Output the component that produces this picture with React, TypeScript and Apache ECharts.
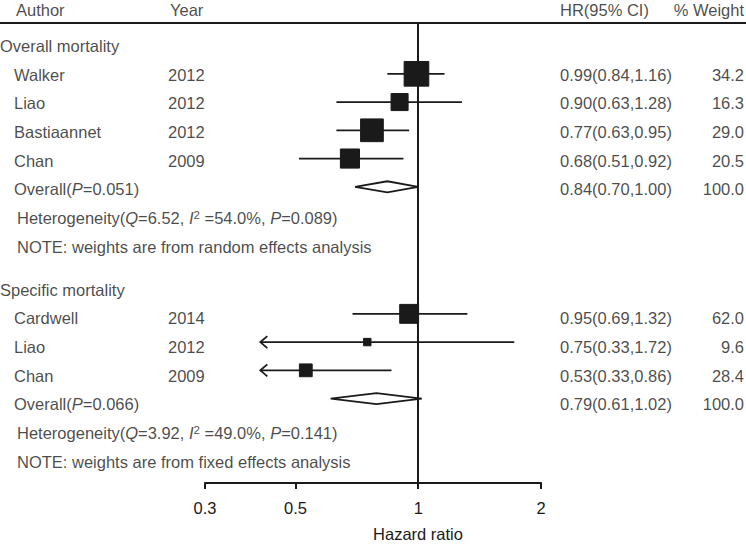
import React, { useEffect, useRef } from "react";
import * as echarts from "echarts";

// ---------- data ----------
const overallAuthors = ["Walker", "Liao", "Bastiaannet", "Chan"];
const overallYears = ["2012", "2012", "2012", "2009"];
const overallHR = [0.99, 0.9, 0.77, 0.68];
const overallLow = [0.84, 0.63, 0.63, 0.51];
const overallHigh = [1.16, 1.28, 0.95, 0.92];
const overallWeight = [34.2, 16.3, 29.0, 20.5];

const specificAuthors = ["Cardwell", "Liao", "Chan"];
const specificYears = ["2014", "2012", "2009"];
const specificHR = [0.95, 0.75, 0.53];
const specificLow = [0.69, 0.33, 0.33];
const specificHigh = [1.32, 1.72, 0.86];
const specificWeight = [62.0, 9.6, 28.4];

const groupTitles = ["Overall mortality", "Specific mortality"];
const pooledHR = [0.84, 0.79];
const pooledLow = [0.7, 0.61];
const pooledHigh = [1.0, 1.02];
const pooledP = ["0.051", "0.066"];
const hetQ = ["6.52", "3.92"];
const hetI2 = ["54.0", "49.0"];
const hetP = ["0.089", "0.141"];
const noteModel = ["random", "fixed"];

const xTicks = [0.3, 0.5, 1, 2];
const xMin = 0.3;
const xMax = 2;
const arrowCut = 0.41; // CIs below this are drawn as arrows

// ---------- layout ----------
const FONT = "'Liberation Sans', Arial, Helvetica, sans-serif";
const INK = "#1a1a1a";
const FS = 16.5;
const groupStart = [0, 8.5];
const sizeScale = [4.22, 2.4];

export default function App() {
  const ref = useRef<HTMLDivElement>(null);

  useEffect(() => {
    if (!ref.current) return;
    const chart = echarts.init(ref.current, null, { renderer: "svg" });

    const groups = [
      { authors: overallAuthors, years: overallYears, hr: overallHR, lo: overallLow, hi: overallHigh, w: overallWeight },
      { authors: specificAuthors, years: specificYears, hr: specificHR, lo: specificLow, hi: specificHigh, w: specificWeight },
    ];

    const texts: any[] = [];
    const addText = (x: number, pos: number, text: string, align = "left") => {
      texts.push({ value: [x, pos], text, label: { align } });
    };

    // header
    addText(16, -1.25, "Author");
    addText(170, -1.25, "Year");
    addText(560, -1.25, "HR(95% CI)");
    addText(744, -1.25, "% Weight", "right");

    const studies: any[] = [];
    const diamonds: any[] = [];

    groups.forEach((g, gi) => {
      const s = groupStart[gi];
      addText(0, s, groupTitles[gi]);
      g.authors.forEach((a, i) => {
        const pos = s + 1 + i;
        addText(14, pos, a);
        addText(168, pos, g.years[i]);
        addText(560, pos, `${g.hr[i].toFixed(2)}(${g.lo[i].toFixed(2)},${g.hi[i].toFixed(2)})`);
        addText(744, pos, g.w[i].toFixed(1), "right");
        const clipped = g.lo[i] < arrowCut;
        studies.push([
          Math.log(g.hr[i]),
          Math.log(clipped ? arrowCut : g.lo[i]),
          Math.log(g.hi[i]),
          pos,
          sizeScale[gi] * Math.sqrt(g.w[i]),
          clipped ? 1 : 0,
        ]);
      });
      const pPos = s + 1 + g.authors.length;
      addText(14, pPos, `Overall({i|P}=${pooledP[gi]})`);
      addText(560, pPos, `${pooledHR[gi].toFixed(2)}(${pooledLow[gi].toFixed(2)},${pooledHigh[gi].toFixed(2)})`);
      addText(744, pPos, "100.0", "right");
      diamonds.push([Math.log(pooledHR[gi]), Math.log(pooledLow[gi]), Math.log(pooledHigh[gi]), pPos]);
      addText(17, pPos + 1, `Heterogeneity({i|Q}=${hetQ[gi]}, {i|I}{sup|2} =${hetI2[gi]}%, {i|P}=${hetP[gi]})`);
      addText(17, pPos + 2, `NOTE: weights are from ${noteModel[gi]} effects analysis`);
    });

    const yAxisBase = {
      type: "value",
      inverse: true,
      min: -0.8,
      max: 15.49,
      show: false,
    };

    const labelFor = (v: number) => {
      const t = xTicks.find((tv) => Math.abs(Math.log(tv) - v) < 1e-6);
      return t === undefined ? "" : String(t);
    };

    chart.setOption({
      animation: false,
      grid: [
        { left: 205, top: 23, width: 336, height: 467 },
        { left: 0, top: 23, width: 746, height: 467 },
      ],
      xAxis: [
        {
          type: "value",
          gridIndex: 0,
          position: "bottom",
          min: Math.log(xMin),
          max: Math.log(xMax),
          splitLine: { show: false },
          axisLine: { show: true, onZero: false, lineStyle: { color: INK, width: 2 } },
          axisTick: {
            show: true,
            inside: false,
            length: 6,
            lineStyle: { color: INK, width: 2 },
            customValues: xTicks.map((t) => Math.log(t)),
          },
          axisLabel: {
            color: INK,
            fontFamily: FONT,
            fontSize: FS,
            margin: 16,
            customValues: xTicks.map((t) => Math.log(t)),
            formatter: (v: number) => labelFor(v),
          },
          name: "Hazard ratio",
          nameLocation: "middle",
          nameGap: 42,
          nameTextStyle: { color: INK, fontFamily: FONT, fontSize: FS, padding: [0, 0, 0, 90] },
        },
        { type: "value", gridIndex: 1, min: 0, max: 746, show: false },
      ],
      yAxis: [
        { ...yAxisBase, gridIndex: 0 },
        { ...yAxisBase, gridIndex: 1 },
      ],
      series: [
        {
          type: "scatter",
          xAxisIndex: 1,
          yAxisIndex: 1,
          symbolSize: 0,
          clip: false,
          silent: true,
          data: texts,
          label: {
            show: true,
            position: "inside",
            verticalAlign: "middle",
            color: INK,
            fontFamily: FONT,
            fontSize: FS,
            formatter: (p: any) => p.data.text,
            rich: {
              i: { fontStyle: "italic", fontFamily: FONT, fontSize: FS, color: INK },
              sup: { fontFamily: FONT, fontSize: 11.5, color: INK, verticalAlign: "top", lineHeight: 11 },
            },
          },
          markLine: {
            silent: true,
            symbol: "none",
            label: { show: false },
            lineStyle: { color: INK, width: 2, type: "solid" },
            data: [{ yAxis: -0.8 }],
          },
        },
        {
          type: "custom",
          xAxisIndex: 0,
          yAxisIndex: 0,
          clip: false,
          silent: true,
          encode: { x: [0, 1, 2], y: 3 },
          data: studies,
          renderItem: (params: any, api: any) => {
            const pos = api.value(3);
            const c = api.coord([api.value(0), pos]);
            const lo = api.coord([api.value(1), pos]);
            const hi = api.coord([api.value(2), pos]);
            const s = api.value(4);
            const children: any[] = [
              {
                type: "line",
                shape: { x1: lo[0], y1: lo[1], x2: hi[0], y2: hi[1] },
                style: { stroke: INK, lineWidth: 1.8 },
              },
              {
                type: "rect",
                shape: { x: c[0] - s / 2, y: c[1] - s / 2, width: s, height: s },
                style: { fill: INK, stroke: INK, lineWidth: 1 },
              },
            ];
            if (api.value(5) === 1) {
              children.push({
                type: "polyline",
                shape: { points: [[lo[0] + 7, lo[1] - 6], [lo[0], lo[1]], [lo[0] + 7, lo[1] + 6]] },
                style: { stroke: INK, lineWidth: 1.8, fill: null },
              });
            }
            return { type: "group", children };
          },
        },
        {
          type: "custom",
          xAxisIndex: 0,
          yAxisIndex: 0,
          clip: false,
          silent: true,
          encode: { x: [0, 1, 2], y: 3 },
          data: diamonds,
          renderItem: (params: any, api: any) => {
            const pos = api.value(3);
            const c = api.coord([api.value(0), pos]);
            const lo = api.coord([api.value(1), pos]);
            const hi = api.coord([api.value(2), pos]);
            const h = 5.5;
            return {
              type: "polygon",
              shape: { points: [[lo[0], lo[1]], [c[0], c[1] - h], [hi[0], hi[1]], [c[0], c[1] + h]] },
              style: { fill: "#ffffff", stroke: INK, lineWidth: 1.8 },
            };
          },
          markLine: {
            silent: true,
            symbol: "none",
            label: { show: false },
            lineStyle: { color: INK, width: 2, type: "solid" },
            data: [{ xAxis: 0 }],
          },
        },
      ],
    });

    return () => chart.dispose();
  }, []);

  return (
    <div
      ref={ref}
      style={{ position: "fixed", left: 0, top: 0, width: 746, height: 547, background: "#ffffff" }}
    />
  );
}
